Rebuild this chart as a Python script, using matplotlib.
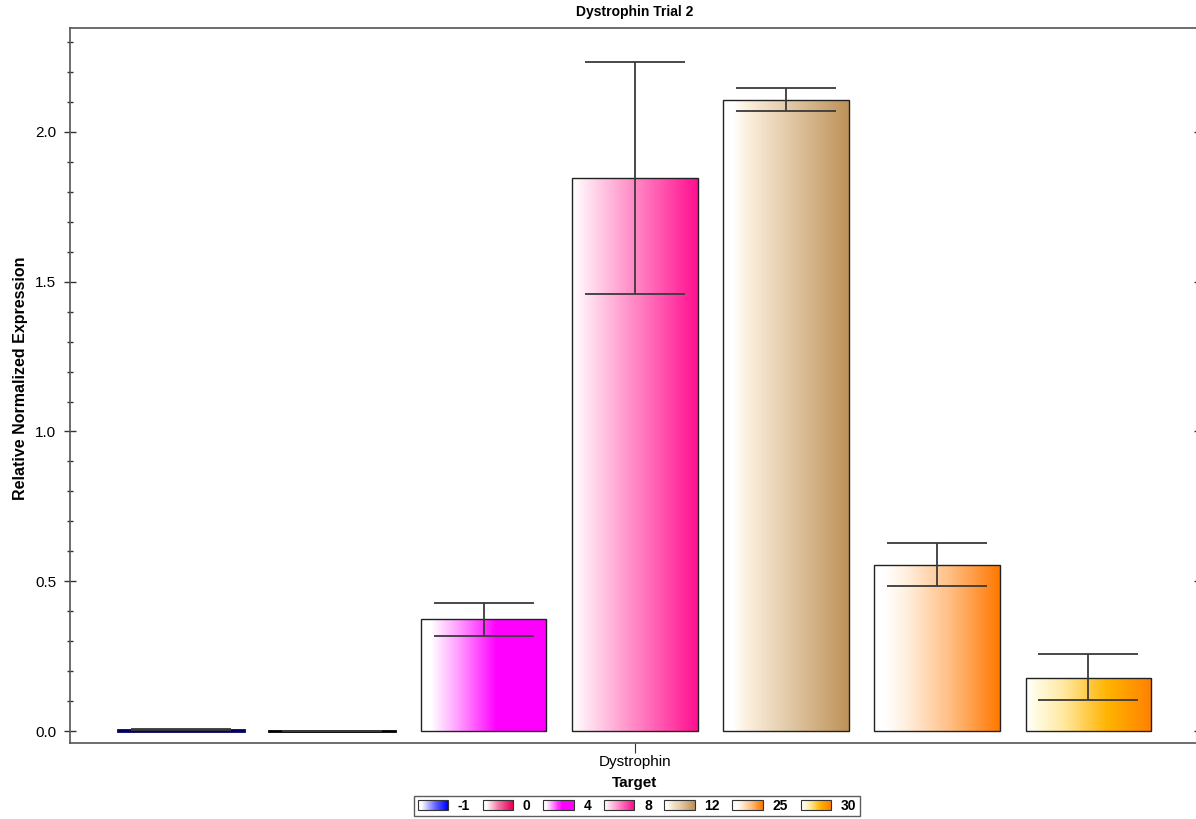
import numpy as np
import matplotlib
matplotlib.use('Agg')
import matplotlib.pyplot as plt
from matplotlib.colors import LinearSegmentedColormap
from matplotlib.patches import Rectangle
from matplotlib.legend_handler import HandlerBase
from matplotlib.ticker import MultipleLocator

plt.rcParams['font.family'] = ['Liberation Sans', 'DejaVu Sans']

# dane
grupy = ['-1', '0', '4', '8', '12', '25', '30']
wartosci = [0.004, 0.0, 0.374, 1.847, 2.107, 0.554, 0.177]
blad_dol = [0.002, 0.0, 0.057, 0.388, 0.037, 0.070, 0.073]
blad_gora = [0.002, 0.0, 0.053, 0.387, 0.040, 0.074, 0.080]
kolory = [
    [(0, '#ffffff'), (0.1, '#ffffff'), (0.6, '#6060ff'), (1, '#0000ff')],
    [(0, '#ffffff'), (0.1, '#ffffff'), (0.5, '#f27aa8'), (1, '#e8005a')],
    [(0, '#ffffff'), (0.08, '#ffffff'), (0.3, '#ff9cff'), (0.6, '#ff00ff'), (1, '#ff00ff')],
    [(0, '#ffffff'), (0.05, '#fff4fa'), (0.4, '#ffa0d0'), (1, '#ff1090')],
    [(0, '#ffffff'), (0.08, '#ffffff'), (0.2, '#fbeedc'), (1, '#bd9258')],
    [(0, '#ffffff'), (0.08, '#ffffff'), (0.25, '#fff0e0'), (0.6, '#ffbf85'), (1, '#ff7800')],
    [(0, '#ffffff'), (0.06, '#fffde8'), (0.3, '#ffe9a0'), (0.65, '#ffb300'), (1, '#ff8000')],
]
kategoria = 'Dystrophin'


def mapa(lista):
    return LinearSegmentedColormap.from_list('g', lista)


class GradientHandler(HandlerBase):
    def __init__(self, cmap):
        super().__init__()
        self.cmap = cmap

    def create_artists(self, legend, orig_handle, xdescent, ydescent,
                       width, height, fontsize, trans):
        n = 30
        artysci = []
        for i in range(n):
            r = Rectangle((-xdescent + width * i / n, -ydescent), width / n + 0.2,
                          height, facecolor=self.cmap(i / (n - 1)),
                          edgecolor='none', transform=trans)
            artysci.append(r)
        ramka = Rectangle((-xdescent, -ydescent), width, height, facecolor='none',
                          edgecolor='#333333', linewidth=0.8, transform=trans)
        artysci.append(ramka)
        return artysci


fig = plt.figure(figsize=(11.96, 8.19), dpi=100)
ax = fig.add_axes([0.0585, 0.0928, 0.9445, 0.873])

x = np.arange(len(grupy))
szer = 0.832
slupki = ax.bar(x, wartosci, width=szer, facecolor='none',
                edgecolor='#222222', linewidth=1.0, zorder=3)

grad = np.linspace(0, 1, 256).reshape(1, -1)
for i, s in enumerate(slupki):
    x0, y0 = s.get_x(), s.get_y()
    w, h = s.get_width(), s.get_height()
    if h <= 0:
        continue
    im = ax.imshow(grad, cmap=mapa(kolory[i]), aspect='auto',
                   extent=[x0, x0 + w, y0, y0 + h], zorder=2, interpolation='bilinear')
    im.set_clip_path(s)

# slupek -1 ma ciemnoniebieska krawedz
slupki[0].set_edgecolor('#000060')
slupki[0].set_linewidth(2.0)
ax.plot([x[1] - szer / 2, x[1] + szer / 2], [0, 0], color='black', lw=2, zorder=4)

ax.errorbar(x, wartosci, yerr=[blad_dol, blad_gora], fmt='none',
            ecolor='#3a3a3a', elinewidth=1.3, capsize=36, capthick=1.3, zorder=5)

ax.set_xlim(-0.735, 6.735)
ax.set_ylim(-0.04, 2.347)
ax.yaxis.set_major_locator(MultipleLocator(0.5))
ax.yaxis.set_minor_locator(MultipleLocator(0.1))
ax.set_yticks([0, 0.5, 1.0, 1.5, 2.0])
ax.set_yticklabels(['0.0', '0.5', '1.0', '1.5', '2.0'], fontsize=11)
ax.tick_params(axis='y', which='major', direction='inout', length=8, width=1,
               color='#333333', right=True, pad=6)
ax.tick_params(axis='y', which='minor', direction='inout', length=5, width=1,
               color='#333333', right=True)
ax.set_xticks([3])
ax.set_xticklabels([kategoria], fontsize=11)
ax.tick_params(axis='x', direction='out', length=7, color='#333333', pad=2)

for strona in ['left', 'bottom', 'top', 'right']:
    ax.spines[strona].set_color('#555555')
    ax.spines[strona].set_linewidth(1.2)

ax.set_title('Dystrophin Trial 2', fontsize=10, fontweight='bold', pad=9)
ax.set_ylabel('Relative Normalized Expression', fontsize=11.5, fontweight='bold')
ax.yaxis.set_label_coords(-0.037, 0.51)
ax.set_xlabel('Target', fontsize=11, fontweight='bold', labelpad=5)

uchwyty = [Rectangle((0, 0), 1, 1) for _ in grupy]
mapa_uchwytow = {u: GradientHandler(mapa(k)) for u, k in zip(uchwyty, kolory)}
leg = fig.legend(uchwyty, grupy, handler_map=mapa_uchwytow, loc='center',
                 bbox_to_anchor=(637 / 1196, 1 - 806 / 819), ncol=7,
                 prop={'size': 10, 'weight': 'bold'},
                 frameon=True, fancybox=False, edgecolor='#333333',
                 handlelength=2.2, handleheight=0.7, handletextpad=0.7,
                 columnspacing=0.9, borderpad=0.25, borderaxespad=0)
leg.get_frame().set_linewidth(1.0)

fig.savefig('out.png', dpi=100)
